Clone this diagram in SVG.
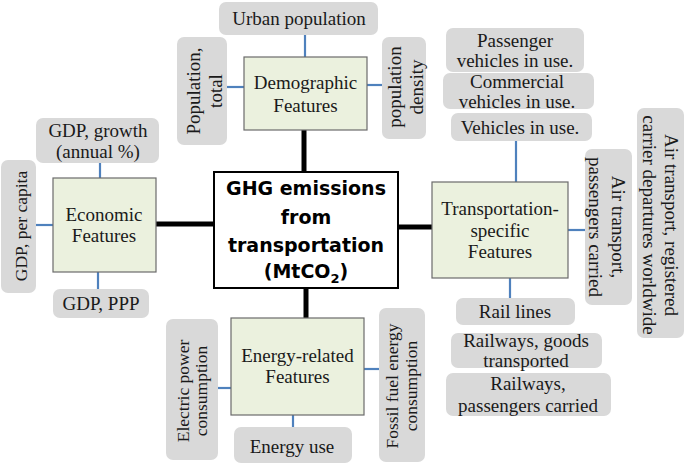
<svg xmlns="http://www.w3.org/2000/svg" width="685" height="464" viewBox="0 0 685 464">
<style>
.leaf{fill:#D9D9D9;stroke:none}
.feat{fill:#EBF1DE;stroke:#6B6B6B;stroke-width:1.2}
.t{font-family:"Liberation Serif","Times New Roman",serif;font-size:19px;fill:#1a1a1a;text-anchor:middle}
.s{font-size:17.5px}
.blue{stroke:#4F81BD;stroke-width:2.2;fill:none}
.thick{stroke:#000;stroke-width:5;fill:none}
.hub{fill:#fff;stroke:#000;stroke-width:2}
.ht{font-family:"DejaVu Sans","Liberation Sans",sans-serif;font-weight:bold;font-size:19px;fill:#000;text-anchor:middle}
</style>
<rect width="685" height="464" fill="#fff"/>
<g id="connectors">
<line class="thick" x1="304" y1="130" x2="304" y2="173"/>
<line class="thick" x1="156" y1="224" x2="215" y2="224"/>
<line class="thick" x1="397" y1="227" x2="432" y2="227"/>
<line class="thick" x1="306" y1="287" x2="306" y2="318"/>
<line class="blue" x1="305" y1="35" x2="305" y2="57"/>
<line class="blue" x1="227" y1="87" x2="244" y2="87"/>
<line class="blue" x1="367" y1="85" x2="382" y2="85"/>
<line class="blue" x1="100" y1="163" x2="100" y2="178"/>
<line class="blue" x1="36" y1="225" x2="53" y2="225"/>
<line class="blue" x1="98" y1="272" x2="98" y2="289"/>
<line class="blue" x1="516" y1="141" x2="516" y2="182"/>
<line class="blue" x1="568" y1="230" x2="585" y2="230"/>
<line class="blue" x1="510" y1="278" x2="510" y2="298"/>
<line class="blue" x1="218" y1="388" x2="231" y2="388"/>
<line class="blue" x1="293" y1="415" x2="293" y2="427"/>
<line class="blue" x1="364" y1="369" x2="379" y2="369"/>
</g>
<g id="hub">
<rect class="hub" x="214" y="172" width="184" height="116"/>
<text class="ht" x="306" y="195">GHG emissions</text>
<text class="ht" x="306" y="224">from</text>
<text class="ht" x="306" y="252">transportation</text>
<text class="ht" x="306" y="278">(MtCO<tspan font-size="13" dy="5">2</tspan><tspan dy="-5">)</tspan></text>
</g>
<g id="demographic">
<rect class="feat" x="244" y="57" width="123" height="73"/>
<text class="t" x="305.5" y="89">Demographic</text>
<text class="t" x="305.5" y="112">Features</text>
</g>
<g id="urban-population">
<rect class="leaf" x="219" y="2" width="159" height="33" rx="7"/>
<text class="t" x="299" y="25">Urban population</text>
</g>
<g id="population-total">
<rect class="leaf" x="177" y="37" width="50" height="108" rx="7"/>
<text class="t" transform="translate(200,91) rotate(-90)"><tspan x="0" y="0">Population,</tspan><tspan x="0" y="22">total</tspan></text>
</g>
<g id="population-density">
<rect class="leaf" x="382" y="37" width="44" height="102" rx="7"/>
<text class="t" transform="translate(401,87) rotate(-90)"><tspan x="0" y="0">population</tspan><tspan x="0" y="22">density</tspan></text>
</g>
<g id="economic">
<rect class="feat" x="53" y="178" width="103" height="94"/>
<text class="t" x="104" y="221">Economic</text>
<text class="t" x="104" y="242">Features</text>
</g>
<g id="gdp-growth">
<rect class="leaf" x="36" y="118" width="123" height="45" rx="7"/>
<text class="t" x="98" y="137">GDP, growth</text>
<text class="t" x="98" y="158">(annual %)</text>
</g>
<g id="gdp-per-capita">
<rect class="leaf" x="1" y="160" width="35" height="133" rx="7"/>
<text class="t s" transform="translate(27,226) rotate(-90)">GDP, per capita</text>
</g>
<g id="gdp-ppp">
<rect class="leaf" x="53" y="289" width="96" height="29" rx="7"/>
<text class="t" x="101" y="310">GDP, PPP</text>
</g>
<g id="transportation">
<rect class="feat" x="432" y="182" width="136" height="96"/>
<text class="t" x="500" y="215">Transportation-</text>
<text class="t" x="500" y="237">specific</text>
<text class="t" x="500" y="258">Features</text>
</g>
<g id="passenger-vehicles">
<rect class="leaf" x="446" y="28" width="138" height="44" rx="7"/>
<text class="t" x="515" y="47">Passenger</text>
<text class="t" x="515" y="67">vehicles in use.</text>
</g>
<g id="commercial-vehicles">
<rect class="leaf" x="443" y="73" width="151" height="36" rx="7"/>
<text class="t" x="517" y="88">Commercial</text>
<text class="t" x="517" y="108">vehicles in use.</text>
</g>
<g id="vehicles-in-use">
<rect class="leaf" x="451" y="113" width="141" height="28" rx="7"/>
<text class="t" x="520" y="134">Vehicles in use.</text>
</g>
<g id="air-passengers">
<rect class="leaf" x="585" y="149" width="47" height="156" rx="7"/>
<text class="t" transform="translate(611.5,227) rotate(90)"><tspan x="0" y="0">Air transport,</tspan><tspan x="0" y="23">passengers carried</tspan></text>
</g>
<g id="air-departures">
<rect class="leaf" x="637" y="108" width="47" height="230" rx="7"/>
<text class="t" transform="translate(664.5,225) rotate(90)"><tspan x="0" y="0">Air transport, registered</tspan><tspan x="0" y="22">carrier departures worldwide</tspan></text>
</g>
<g id="rail-lines">
<rect class="leaf" x="456" y="298" width="119" height="27" rx="7"/>
<text class="t" x="515" y="318">Rail lines</text>
</g>
<g id="railways-goods">
<rect class="leaf" x="451" y="333" width="151" height="35" rx="7"/>
<text class="t" x="526" y="347">Railways, goods</text>
<text class="t" x="526" y="367">transported</text>
</g>
<g id="railways-passengers">
<rect class="leaf" x="446" y="373" width="165" height="43" rx="7"/>
<text class="t" x="528" y="390">Railways,</text>
<text class="t" x="528" y="412">passengers carried</text>
</g>
<g id="energy">
<rect class="feat" x="231" y="318" width="133" height="97"/>
<text class="t" x="297.5" y="362">Energy-related</text>
<text class="t" x="297.5" y="383">Features</text>
</g>
<g id="electric-power">
<rect class="leaf" x="166" y="319" width="52" height="141" rx="7"/>
<text class="t s" transform="translate(189,391) rotate(-90)"><tspan x="0" y="0">Electric power</tspan><tspan x="0" y="18">consumption</tspan></text>
</g>
<g id="energy-use">
<rect class="leaf" x="234" y="427" width="118" height="36" rx="7"/>
<text class="t" x="292" y="453">Energy use</text>
</g>
<g id="fossil-fuel">
<rect class="leaf" x="379" y="308" width="46" height="154" rx="7"/>
<text class="t s" transform="translate(398,386) rotate(-90)"><tspan x="0" y="0">Fossil fuel energy</tspan><tspan x="0" y="19">consumption</tspan></text>
</g>
</svg>
